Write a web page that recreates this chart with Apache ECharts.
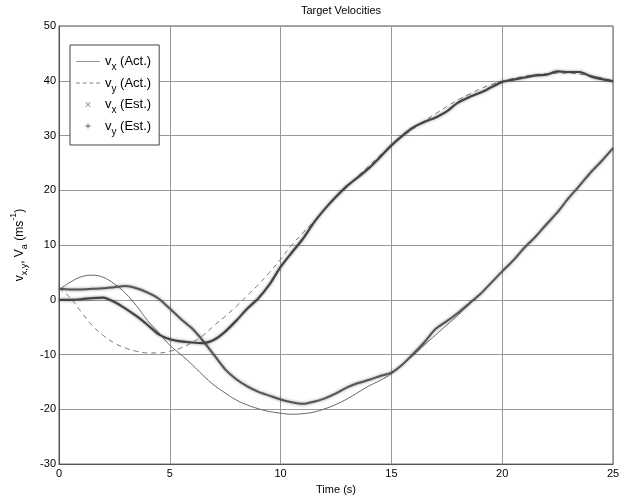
<!DOCTYPE html>
<html>
<head>
<meta charset="utf-8">
<script src="https://cdn.jsdelivr.net/npm/echarts@6/dist/echarts.min.js"></script>
<style>html,body{margin:0;padding:0;background:#fff;}#c{width:623px;height:500px;}</style>
</head>
<body>
<div id="c"></div>
<script>
const T = [0,0.5,1,1.5,2,2.5,3,3.5,4,4.5,5,5.5,6,6.5,7,7.5,8,8.5,9,9.5,10,10.5,11,11.5,12,12.5,13,13.5,14,14.5,15,15.5,16,16.5,17,17.5,18,18.5,19,19.5,20,20.5,21,21.5,22,22.5,23,23.5,24,24.5,25];
const vxAct = [1.8,3.2,4.2,4.5,4.1,2.9,1.2,-1.1,-3.8,-6.0,-8.3,-10.0,-11.8,-13.8,-15.6,-17.0,-18.3,-19.2,-19.9,-20.4,-20.7,-20.9,-20.8,-20.5,-19.9,-19.1,-18.1,-16.9,-15.7,-14.7,-13.5,-11.8,-10.1,-8.2,-6.4,-4.6,-2.8,-0.9,1.0,3.1,5.1,7.3,9.4,11.6,13.7,16.1,18.5,21.0,23.2,25.5,27.7];
const vyAct = [2.1,0.4,-2.2,-4.7,-6.5,-7.9,-8.8,-9.4,-9.7,-9.7,-9.4,-8.8,-7.8,-6.5,-4.7,-3.0,-1.2,0.8,2.8,5.0,7.4,10.0,12.2,14.3,16.6,18.8,20.7,22.6,24.5,26.4,28.2,29.8,31.3,32.7,34.0,35.3,36.5,37.5,38.5,39.3,39.9,40.4,40.8,41.1,41.3,41.4,41.4,41.2,40.9,40.5,40.0];
const vxEst = [2.0,1.9,1.9,2.0,2.1,2.3,2.5,2.1,1.3,0.2,-1.6,-3.5,-5.2,-7.5,-10.1,-12.7,-14.5,-15.8,-16.8,-17.5,-18.2,-18.7,-19.0,-18.6,-18.0,-17.1,-16.0,-15.2,-14.6,-13.9,-13.3,-11.8,-9.8,-7.7,-5.3,-3.9,-2.4,-0.7,1.0,3.1,5.2,7.2,9.5,11.5,13.8,16.0,18.6,20.9,23.3,25.4,27.7];
const vyEst = [0.0,0.0,0.1,0.3,0.4,-0.4,-1.6,-3.0,-4.6,-6.3,-7.2,-7.6,-7.8,-7.9,-7.3,-5.8,-3.8,-1.6,0.3,2.8,6.0,8.6,11.1,14.1,16.6,18.8,20.8,22.4,24.1,26.1,28.2,30.0,31.5,32.5,33.3,34.4,36.0,37.0,37.8,38.8,39.8,40.2,40.6,41.0,41.1,41.7,41.6,41.6,40.8,40.3,39.9];
const seriesNames = ['vx (Act.)','vy (Act.)','vx (Est.)','vy (Est.)'];
const legendLabels = {
  'vx (Act.)': '{n|v}{s|x}{n| (Act.)}',
  'vy (Act.)': '{n|v}{s|y}{n| (Act.)}',
  'vx (Est.)': '{n|v}{s|x}{n| (Est.)}',
  'vy (Est.)': '{n|v}{s|y}{n| (Est.)}'
};
const titleText = 'Target Velocities';
const xName = 'Time (s)';

function pairs(arr){ return T.map((t,i)=>[t,arr[i]]); }
const FONT = 'Liberation Sans, Arial, sans-serif';
const solidIcon = 'path://M0,0H24V1H0Z';
const dashIcon = 'path://M0,0H4V1H0ZM6.7,0H10.7V1H6.7ZM13.4,0H17.4V1H13.4ZM20,0H24V1H20Z';
const xIcon = 'path://M0,1L1,0L5,4L9,0L10,1L6,5L10,9L9,10L5,6L1,10L0,9L4,5Z';
const plusIcon = 'path://M4.2,0H5.8V4.2H10V5.8H5.8V10H4.2V5.8H0V4.2H4.2Z';

const chart = echarts.init(document.getElementById('c'));
chart.setOption({
  animation: false,
  backgroundColor: '#fff',
  textStyle: {fontFamily: FONT},
  title: {
    text: titleText, left: 336, top: 0, textAlign: 'center',
    textStyle: {fontSize: 11, fontWeight: 'normal', color: '#000', fontFamily: FONT}
  },
  grid: {left: 59, right: 10, top: 26, bottom: 31, show: true, borderColor: '#555', borderWidth: 1},
  legend: {
    orient: 'vertical', left: 70, top: 45,
    backgroundColor: '#fff', borderColor: '#444', borderWidth: 1,
    padding: [10, 8, 8, 6], itemGap: 4, itemWidth: 24, itemHeight: 5,
    data: [
      {name: seriesNames[0], icon: solidIcon, itemStyle: {color: '#999'}},
      {name: seriesNames[1], icon: dashIcon, itemStyle: {color: '#888'}},
      {name: seriesNames[2], icon: xIcon, itemStyle: {color: '#777'}},
      {name: seriesNames[3], icon: plusIcon, itemStyle: {color: '#555'}}
    ],
    formatter: name => legendLabels[name],
    textStyle: {
      color: '#000', fontFamily: FONT,
      rich: {
        n: {fontSize: 13, lineHeight: 22, color: '#000', fontFamily: FONT},
        s: {fontSize: 10, lineHeight: 10, verticalAlign: 'bottom', color: '#000', fontFamily: FONT}
      }
    }
  },
  xAxis: {
    type: 'value', min: 0, max: 25, interval: 5,
    name: xName, nameLocation: 'middle', nameGap: 17,
    nameTextStyle: {fontSize: 11, color: '#000', fontFamily: FONT},
    axisLine: {show: true, onZero: false, lineStyle: {color: '#555'}},
    axisTick: {show: false},
    axisLabel: {fontSize: 11, color: '#000', margin: 4, fontFamily: FONT},
    splitLine: {show: true, lineStyle: {color: '#999', width: 1}}
  },
  yAxis: {
    type: 'value', min: -30, max: 50, interval: 10,
    name: '{n|v}{s|x,y}{n|, V}{s|a}{n| (ms}{p|-1}{n|)}',
    nameLocation: 'middle', nameGap: 28, nameRotate: 90,
    nameTextStyle: {
      fontSize: 12, color: '#000', fontFamily: FONT,
      rich: {
        n: {fontSize: 12, lineHeight: 20, color: '#000', fontFamily: FONT},
        s: {fontSize: 9, lineHeight: 8, verticalAlign: 'bottom', color: '#000', fontFamily: FONT},
        p: {fontSize: 9, lineHeight: 10, verticalAlign: 'top', color: '#000', fontFamily: FONT}
      }
    },
    axisLine: {show: true, lineStyle: {color: '#555'}},
    axisTick: {show: false},
    axisLabel: {fontSize: 11, color: '#000', margin: 3, fontFamily: FONT},
    splitLine: {show: true, lineStyle: {color: '#999', width: 1}}
  },
  series: [
    {name: seriesNames[0], type: 'line', data: pairs(vxAct), showSymbol: false, symbol: 'none', smooth: 0.4,
     lineStyle: {color: '#666', width: 1}, itemStyle: {color: '#666'}, z: 2},
    {name: seriesNames[1], type: 'line', data: pairs(vyAct), showSymbol: false, symbol: 'none', smooth: 0.4,
     lineStyle: {color: '#777', width: 1, type: [5, 4]}, itemStyle: {color: '#777'}, z: 2},
    {name: seriesNames[2], type: 'line', data: pairs(vxEst), showSymbol: false, symbol: 'none', smooth: 0.25,
     lineStyle: {color: '#555', width: 2, shadowColor: 'rgba(0,0,0,0.45)', shadowBlur: 3}, itemStyle: {color: '#777'}, z: 3},
    {name: seriesNames[3], type: 'line', data: pairs(vyEst), showSymbol: false, symbol: 'none', smooth: 0.25,
     lineStyle: {color: '#444', width: 2.2, shadowColor: 'rgba(0,0,0,0.45)', shadowBlur: 3}, itemStyle: {color: '#555'}, z: 3}
  ]
});
</script>
</body>
</html>
